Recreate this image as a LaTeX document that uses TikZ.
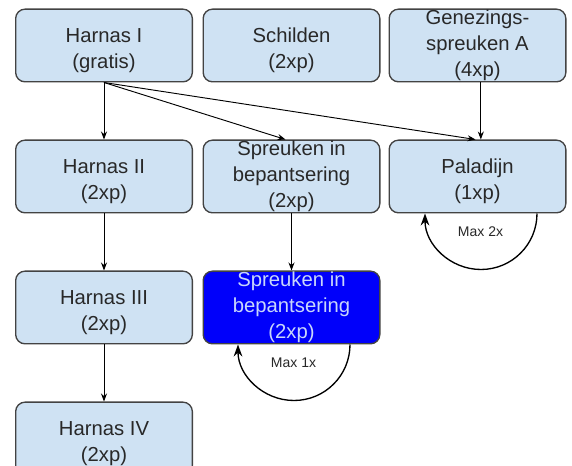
\documentclass[tikz,border=0pt]{standalone}
\usepackage{fontspec}
\setmainfont{Liberation Sans}
\usetikzlibrary{arrows.meta}

\definecolor{vakblauw}{RGB}{207,226,243}
\definecolor{rand}{RGB}{67,67,67}
\definecolor{tekst}{RGB}{40,40,40}
\definecolor{fel}{RGB}{0,0,250}
\definecolor{feltekst}{RGB}{200,214,250}

\newcommand{\ruimte}{\rule{0pt}{18pt}}

\begin{document}
\begin{tikzpicture}[x=0.75pt, y=0.75pt,
        >={Stealth[length=6pt,width=4.5pt]},
        vak/.style={draw=rand, fill=vakblauw, text=tekst, line width=1pt,
            rounded corners=7pt, minimum width=132.5pt, minimum height=54.5pt,
            inner sep=0pt, align=center,
            font=\fontsize{15.2pt}{19.5pt}\selectfont},
        gekozen/.style={vak, fill=fel, text=feltekst},
        pijl/.style={->, line width=0.7pt, black},
        lus/.style={-{Stealth[length=9pt,width=6.5pt]}, line width=1pt, black},
        teller/.style={font=\fontsize{10.5pt}{12pt}\selectfont, text=tekst}]
        \clip (0,0) rectangle (572,-466);
        \fill[white] (0,0) rectangle (572,-466);

        % Vakken
        \node[vak] (h1) at (104,-45.5) {\ruimte Harnas I\\(gratis)};
        \node[vak] (schild) at (291.5,-45.5) {\ruimte Schilden\\(2xp)};
        \node[vak] (gen) at (477.5,-45.5) {Genezings-\\spreuken A\\(4xp)};

        \node[vak] (h2) at (104,-176.5) {\ruimte Harnas II\\(2xp)};
        \node[vak] (spr) at (291.5,-176.5) {Spreuken in\\bepantsering\\(2xp)};
        \node[vak] (pal) at (477.5,-176.5) {\ruimte Paladijn\\(1xp)};

        \node[vak] (h3) at (104,-307.5) {\ruimte Harnas III\\(2xp)};
        \node[gekozen] (spr2) at (291.5,-307.5) {Spreuken in\\bepantsering\\(2xp)};

        \node[vak] (h4) at (104,-438.5) {\ruimte Harnas IV\\(2xp)};

        % Pijlen
        \draw[pijl] (h1.south) -- (h2.north);
        \draw[pijl] (h2.south) -- (h3.north);
        \draw[pijl] (h3.south) -- (h4.north);
        \draw[pijl] (h1.south) -- ([xshift=-4.5]spr.north);
        \draw[pijl] (h1.south) -- ([xshift=-1.5]pal.north);
        \draw[pijl] ([xshift=2.5]gen.south) -- ([xshift=2.5]pal.north);
        \draw[pijl] (spr.south) -- (spr2.north);

        % Lussen
        \draw[lus] ([shift={(59.5,0)}]pal.south) arc[start angle=0, end angle=-180, radius=56];
        \node[teller] (max2) at ([shift={(3,-18)}]pal.south) {Max 2x};
        \draw[lus] ([shift={(58.5,0)}]spr2.south) arc[start angle=0, end angle=-180, radius=56];
        \node[teller] (max1) at ([shift={(2,-18)}]spr2.south) {Max 1x};
    \end{tikzpicture}
\end{document}
